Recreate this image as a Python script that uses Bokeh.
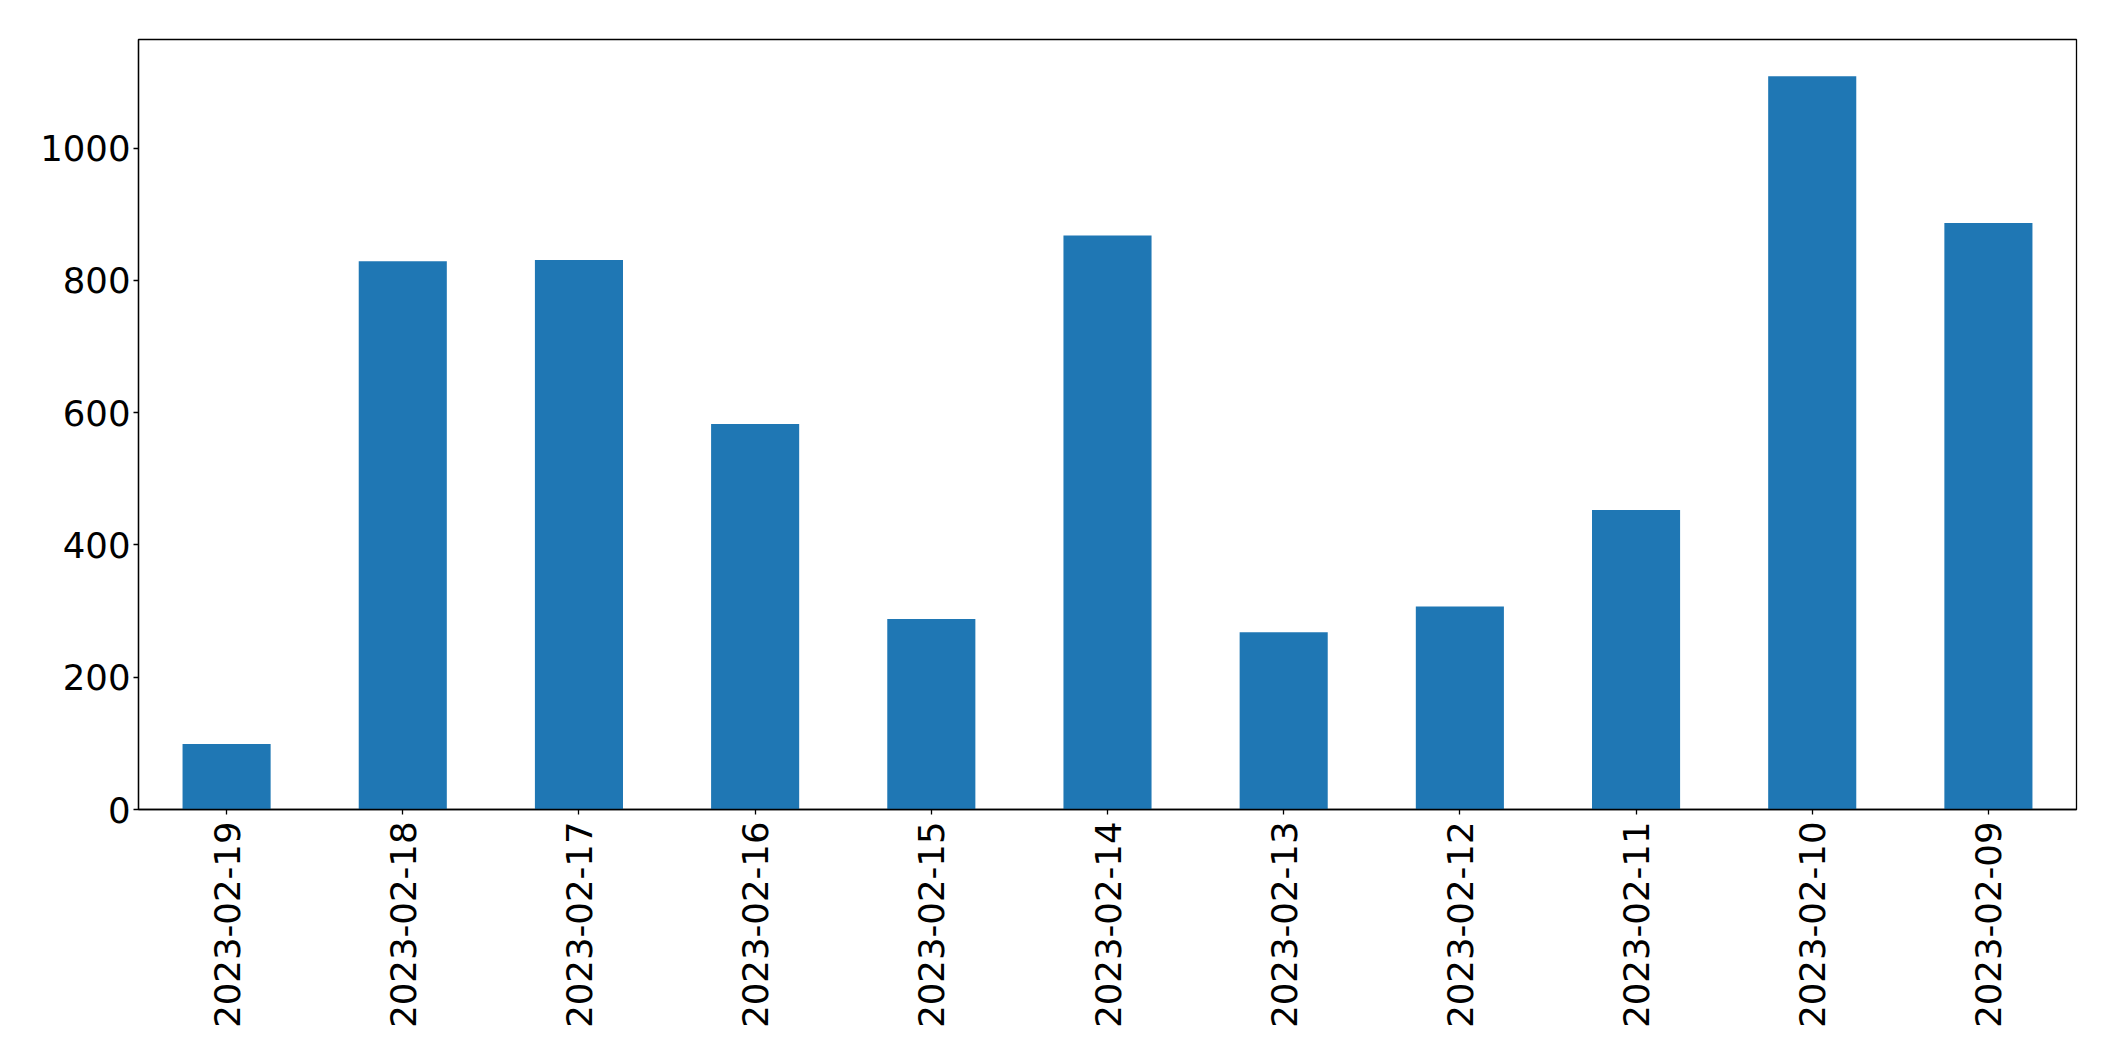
import math
from bokeh.plotting import figure
from bokeh.models import FactorRange, Range1d, FixedTicker, ColumnDataSource
from bokeh.embed import file_html
from bokeh.resources import INLINE

dates = ["2023-02-19", "2023-02-18", "2023-02-17", "2023-02-16", "2023-02-15",
         "2023-02-14", "2023-02-13", "2023-02-12", "2023-02-11", "2023-02-10",
         "2023-02-09"]
counts = [99, 829, 831, 583, 288, 868, 268, 307, 453, 1109, 887]
y_ticks = [0, 200, 400, 600, 800, 1000]

src = ColumnDataSource(dict(x=dates, top=counts))

p = figure(
    x_range=FactorRange(*dates, range_padding=0),
    y_range=Range1d(0, max(counts) * 1.05),
    width=2099, height=1045,
    output_backend="svg", toolbar_location=None,
    min_border_left=138, min_border_right=23,
    min_border_top=39, min_border_bottom=236,
)
p.vbar(x="x", top="top", width=0.5, source=src, color="#1f77b4", line_color=None)

p.xgrid.visible = False
p.ygrid.visible = False
p.outline_line_color = "black"
p.outline_line_width = 1.3
p.background_fill_color = "white"
p.border_fill_color = "white"

for ax in (p.xaxis[0], p.yaxis[0]):
    ax.axis_line_color = "black"
    ax.axis_line_width = 1.3
    ax.major_tick_line_color = "black"
    ax.major_tick_line_width = 1.3
    ax.major_tick_out = 5
    ax.major_tick_in = 0
    ax.minor_tick_line_color = None
    ax.major_label_text_font = "DejaVu Sans"
    ax.major_label_text_font_size = "35.5px"
    ax.major_label_text_color = "black"

p.yaxis.ticker = FixedTicker(ticks=y_ticks)
p.yaxis.major_label_standoff = 3
p.xaxis.major_label_orientation = math.pi / 2
p.xaxis.major_label_standoff = 7

open("out.html", "w").write(file_html(p, INLINE))
